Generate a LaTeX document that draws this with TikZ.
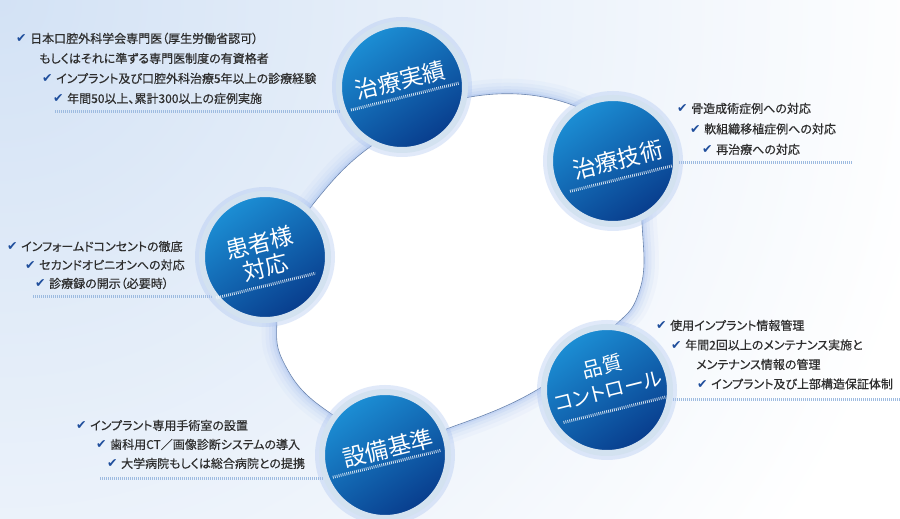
\documentclass[tikz,border=0pt]{standalone}
\usepackage{fontspec}
\setmainfont{Noto Sans CJK JP}[RawFeature=+palt]
\newfontfamily\listfont{Noto Sans CJK JP}[RawFeature=+palt, FakeBold=0.5]
\newfontfamily\chkfont{DejaVu Sans}
\usetikzlibrary{positioning}

\definecolor{bgblue}{HTML}{D3E2F5}
\definecolor{txtgray}{HTML}{2E2E2E}
\definecolor{chkblue}{HTML}{1F4E9C}
\definecolor{discl}{HTML}{1C8FD5}
\definecolor{discd}{HTML}{083C8C}
\definecolor{halo}{HTML}{D3E2F0}
\definecolor{glow}{HTML}{A9C2F0}
\definecolor{ringedge}{HTML}{6A84AE}
\definecolor{hatchblue}{HTML}{9DBBE0}

\newcommand{\chk}{\makebox[14pt][l]{\color{chkblue}\chkfont\fontsize{12.5}{12}\selectfont ✔}}

\tikzstyle{listline} = [anchor=base west, inner sep=0pt, text=txtgray, font=\listfont\fontsize{12}{12}\selectfont]
\tikzstyle{disc} = [circle, minimum size=126pt, inner sep=0pt, draw=halo, line width=6pt, top color=discl, bottom color=discd, shading angle=35]
\tikzstyle{discglow} = [glow, opacity=0.35]
\tikzstyle{disctext} = [text=white, font=\fontsize{23}{25}\selectfont, align=center, inner sep=0pt]
\tikzstyle{hatch} = [hatchblue, line width=3pt, dash pattern=on 0.8pt off 1.2pt]
\tikzstyle{hatchw} = [white, opacity=0.8, line width=3pt, dash pattern=on 0.8pt off 1.2pt]

\begin{document}
\begin{tikzpicture}[x=1pt, y=1pt]
\useasboundingbox (0,0) rectangle (900,519);
% background
\fill[white] (0,0) rectangle (900,519);
\begin{scope}
\clip (0,0) rectangle (900,519);
\shade[inner color=bgblue, outer color=white] (0,519) circle (950);
\end{scope}

% ring
\path[save path=\ringpath] plot[smooth cycle, tension=0.7] coordinates {(470,422) (575,413) (628,360) (643,280) (638,224) (610,189) (545,134) (460,95) (390,79) (323,111) (285,154) (277,199) (290,269) (318,321) (380,379)};
\foreach \w/\o in {30/0.08, 22/0.1, 15/0.14, 9/0.2, 4/0.35}
  \draw[use path=\ringpath, glow, line width=\w pt, opacity=\o];
\fill[use path=\ringpath, white];
\draw[use path=\ringpath, ringedge, line width=0.6pt];

% underlines
\draw[hatch] (55,407) -- (402,407);
\draw[hatch] (613,356) -- (852,356);
\draw[hatch] (33,222) -- (265,222);
\draw[hatch] (607,119) -- (900,119);
\draw[hatch] (100,40) -- (385,40);

% circles
\foreach \c in {(402,432), (613,358), (265,262), (607,129), (385,64)}
  \fill[discglow] \c circle (70);
\node (jisseki) [disc] at (402,432) {};
\node (gijutsu) [disc] at (613,358) {};
\node (kanja) [disc] at (265,262) {};
\node (hinshitsu) [disc] at (607,129) {};
\node (setsubi) [disc] at (385,64) {};

\begin{scope}[shift={(jisseki.center)}, rotate=14, transform shape]
\node (jisseki-t) [disctext] at (0,7) {治療実績};
\draw[hatchw] (-55,-10) -- (56,-10);
\end{scope}
\begin{scope}[shift={(gijutsu.center)}, rotate=14, transform shape]
\node (gijutsu-t) [disctext] at (5,0) {治療技術};
\draw[hatchw] (-49,-19) -- (56,-19);
\end{scope}
\begin{scope}[shift={(kanja.center)}, rotate=14, transform shape]
\node (kanja-t) [disctext] at (-2,2.5) {患者様\\対応};
\draw[hatchw] (-57,-28) -- (45,-28);
\end{scope}
\begin{scope}[shift={(hinshitsu.center)}, rotate=14, transform shape]
\node (hinshitsu-t) [disctext, font=\fontsize{20}{25}\selectfont] at (1,12) {品質\\コントロール};
\draw[hatchw] (-50,-21) -- (56,-21);
\end{scope}
\begin{scope}[shift={(setsubi.center)}, rotate=14, transform shape]
\node (setsubi-t) [disctext] at (4.6,6) {設備基準};
\draw[hatchw] (-56,-9) -- (55,-9);
\end{scope}

% lists
\node (a1) [listline] at (16,476) {\chk 日本口腔外科学会専門医（厚生労働省認可）};
\node (a2) [listline, below=20pt of a1.base west, anchor=base west, xshift=23pt] {もしくはそれに準ずる専門医制度の有資格者};
\node (a3) [listline, below=20pt of a2.base west, anchor=base west, xshift=3pt] {\chk インプラント及び口腔外科治療5年以上の診療経験};
\node (a4) [listline, below=20pt of a3.base west, anchor=base west, xshift=11pt] {\chk 年間50以上、累計300以上の症例実施};

\node (b1) [listline] at (677,406) {\chk 骨造成術症例への対応};
\node (b2) [listline, below=20.5pt of b1.base west, anchor=base west, xshift=13pt] {\chk 軟組織移植症例への対応};
\node (b3) [listline, below=20.5pt of b2.base west, anchor=base west, xshift=12pt] {\chk 再治療への対応};

\node (c1) [listline] at (7,268) {\chk インフォームドコンセントの徹底};
\node (c2) [listline, below=18.5pt of c1.base west, anchor=base west, xshift=18pt] {\chk セカンドオピニオンへの対応};
\node (c3) [listline, below=18.5pt of c2.base west, anchor=base west, xshift=10pt] {\chk 診療録の開示（必要時）};

\node (d1) [listline] at (656,189) {\chk 使用インプラント情報管理};
\node (d2) [listline, below=19.5pt of d1.base west, anchor=base west, xshift=15pt] {\chk 年間2回以上のメンテナンス実施と};
\node (d3) [listline, below=19.5pt of d2.base west, anchor=base west, xshift=25pt] {メンテナンス情報の管理};
\node (d4) [listline, below=19.5pt of d3.base west, anchor=base west, xshift=1pt] {\chk インプラント及び上部構造保証体制};

\node (e1) [listline] at (76,89) {\chk インプラント専用手術室の設置};
\node (e2) [listline, below=19pt of e1.base west, anchor=base west, xshift=20pt] {\chk 歯科用CT／画像診断システムの導入};
\node (e3) [listline, below=19pt of e2.base west, anchor=base west, xshift=11pt] {\chk 大学病院もしくは総合病院との提携};
\end{tikzpicture}
\end{document}
